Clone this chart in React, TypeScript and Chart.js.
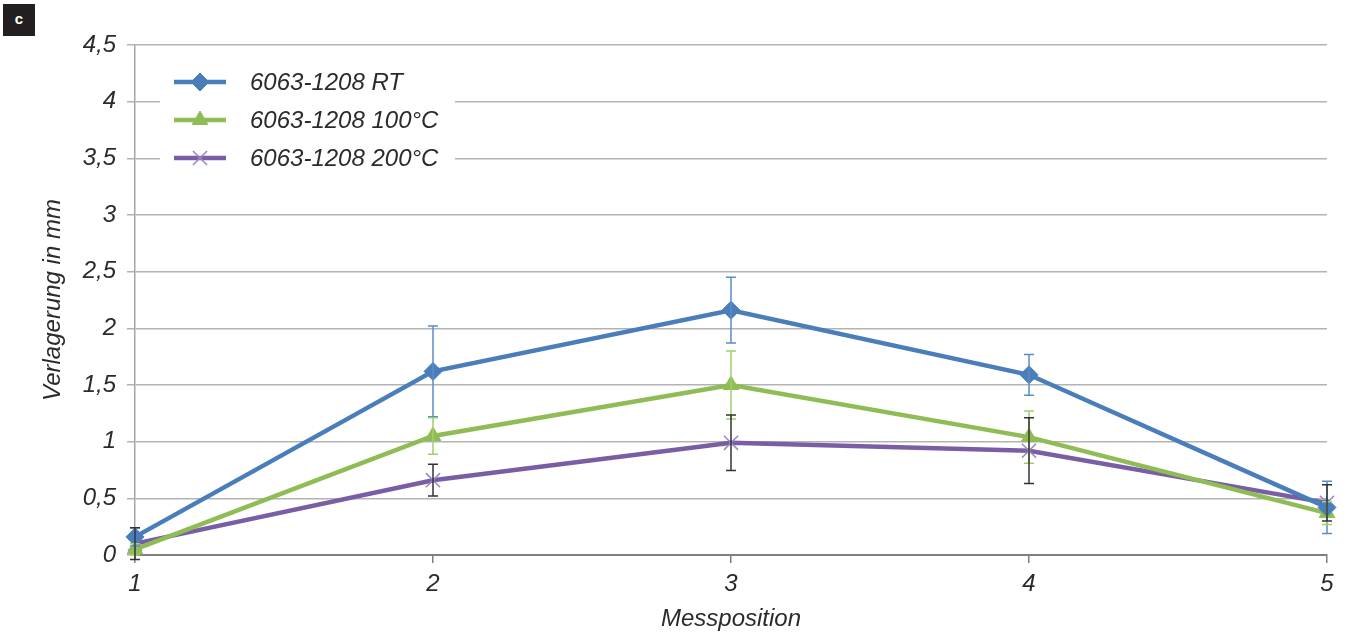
import React, { useEffect, useRef } from "react";
import { Chart, registerables } from "chart.js";
import { drawPoint } from "chart.js/helpers";

Chart.register(...registerables);

const categories = ["1", "2", "3", "4", "5"];
const seriesLabels = ["6063-1208 RT", "6063-1208 100°C", "6063-1208 200°C"];
const rtValues = [0.16, 1.62, 2.16, 1.59, 0.42];
const rtErrors = [0.08, 0.4, 0.29, 0.18, 0.23];
const c100Values = [0.05, 1.05, 1.5, 1.04, 0.37];
const c100Errors = [0.05, 0.16, 0.3, 0.23, 0.1];
const c200Values = [0.1, 0.66, 0.99, 0.92, 0.46];
const c200Errors = [0.14, 0.14, 0.245, 0.29, 0.16];
const yTicks = [0, 0.5, 1, 1.5, 2, 2.5, 3, 3.5, 4, 4.5];

const BLUE = "#4a7ebb";
const GREEN = "#8fbc55";
const PURPLE = "#7a5ea5";
const FONT = "'Liberation Sans', Arial, sans-serif";
const TEXT = "#2b2b2b";

const errorSets = [
  { values: rtValues, errors: rtErrors, color: "#5b8ccc" },
  { values: c100Values, errors: c100Errors, color: "#9fcf6a" },
  { values: c200Values, errors: c200Errors, color: "#333333" },
];

const errorBarPlugin = {
  id: "errorBars",
  afterDatasetsDraw(chart: any) {
    const { ctx, scales } = chart;
    const xs = scales.x;
    const ys = scales.y;
    ctx.save();
    errorSets.forEach((s) => {
      ctx.strokeStyle = s.color;
      ctx.lineWidth = 1.5;
      s.values.forEach((v, i) => {
        const x = xs.getPixelForValue(i);
        const yTop = ys.getPixelForValue(v + s.errors[i]);
        const yBot = ys.getPixelForValue(v - s.errors[i]);
        ctx.beginPath();
        ctx.moveTo(x, yTop);
        ctx.lineTo(x, yBot);
        ctx.moveTo(x - 5, yTop);
        ctx.lineTo(x + 5, yTop);
        ctx.moveTo(x - 5, yBot);
        ctx.lineTo(x + 5, yBot);
        ctx.stroke();
      });
    });
    ctx.restore();
  },
};

const legendPlugin = {
  id: "customLegend",
  beforeDatasetsDraw(chart: any) {
    const { ctx } = chart;
    ctx.save();
    ctx.fillStyle = "#ffffff";
    ctx.fillRect(160, 62, 295, 116);
    const rows = [82, 120, 158];
    chart.data.datasets.forEach((ds: any, i: number) => {
      const y = rows[i];
      ctx.strokeStyle = ds.borderColor;
      ctx.lineWidth = 4.5;
      ctx.beginPath();
      ctx.moveTo(174, y);
      ctx.lineTo(226, y);
      ctx.stroke();
      ctx.fillStyle = ds.pointBackgroundColor;
      ctx.strokeStyle = ds.pointBorderColor;
      ctx.lineWidth = ds.pointBorderWidth;
      drawPoint(ctx, { pointStyle: ds.pointStyle, radius: ds.pointRadius, borderWidth: ds.pointBorderWidth, rotation: 0 } as any, 200, y);
      ctx.fillStyle = TEXT;
      ctx.font = `italic 24px ${FONT}`;
      ctx.textBaseline = "middle";
      ctx.textAlign = "left";
      ctx.fillText(ds.label, 250, y + 1);
    });
    ctx.restore();
  },
};

export default function App() {
  const ref = useRef<HTMLCanvasElement>(null);
  useEffect(() => {
    document.body.style.margin = "0";
    const chart = new Chart(ref.current as HTMLCanvasElement, {
      type: "line",
      data: {
        labels: categories,
        datasets: [
          {
            label: seriesLabels[0],
            data: rtValues,
            borderColor: BLUE,
            backgroundColor: BLUE,
            borderWidth: 4.5,
            pointStyle: "rectRot",
            pointRadius: 9,
            pointBorderWidth: 1,
            pointBackgroundColor: BLUE,
            pointBorderColor: BLUE,
          },
          {
            label: seriesLabels[1],
            data: c100Values,
            borderColor: GREEN,
            backgroundColor: GREEN,
            borderWidth: 4.5,
            pointStyle: "triangle",
            pointRadius: 9,
            pointBorderWidth: 1,
            pointBackgroundColor: GREEN,
            pointBorderColor: GREEN,
          },
          {
            label: seriesLabels[2],
            data: c200Values,
            borderColor: PURPLE,
            backgroundColor: PURPLE,
            borderWidth: 4.5,
            pointStyle: "crossRot",
            pointRadius: 10,
            pointBorderWidth: 1.5,
            pointBackgroundColor: "#9b86c2",
            pointBorderColor: "#9b86c2",
          },
        ],
      },
      options: {
        animation: false,
        responsive: false,
        maintainAspectRatio: false,
        layout: { padding: { left: 0, right: 22, top: 45, bottom: 0 } },
        plugins: { legend: { display: false }, tooltip: { enabled: false } },
        scales: {
          x: {
            type: "category",
            offset: false,
            afterFit(scale: any) {
              scale.height = 79;
            },
            grid: {
              display: true,
              drawOnChartArea: false,
              drawTicks: true,
              tickLength: 8,
              color: "#7f7f7f",
              lineWidth: 1.5,
            },
            border: { color: "#7f7f7f", width: 2 },
            ticks: {
              color: TEXT,
              font: { family: FONT, size: 24, style: "italic" },
              padding: 7,
              maxRotation: 0,
            },
            title: {
              display: true,
              text: "Messposition",
              color: TEXT,
              font: { family: FONT, size: 24, style: "italic" },
              padding: { top: 0, bottom: 0 },
            },
          },
          y: {
            min: 0,
            max: 4.5,
            afterFit(scale: any) {
              scale.width = 135;
            },
            afterBuildTicks(scale: any) {
              scale.ticks = yTicks.map((v) => ({ value: v }));
            },
            grid: {
              color: "#b3b3b3",
              lineWidth: 1.5,
              drawTicks: true,
              tickLength: 8,
            },
            border: { color: "#a6a6a6", width: 1.5 },
            ticks: {
              color: TEXT,
              font: { family: FONT, size: 24, style: "italic" },
              padding: 11,
              callback: (v: any) => String(v).replace(".", ","),
            },
            title: {
              display: true,
              text: "Verlagerung in mm",
              color: TEXT,
              font: { family: FONT, size: 24, style: "italic" },
              padding: { top: 39, bottom: 0 },
            },
          },
        },
      },
      plugins: [legendPlugin, errorBarPlugin],
    } as any);
    return () => chart.destroy();
  }, []);
  return (
    <div style={{ position: "absolute", left: 0, top: 0, width: 1349, height: 634, background: "#fff" }}>
      <canvas ref={ref} width={1349} height={634} style={{ display: "block" }} />
      <div
        style={{
          position: "absolute",
          left: 3,
          top: 4,
          width: 32,
          height: 32,
          background: "#231f20",
          color: "#fff",
          fontFamily: FONT,
          fontWeight: "bold",
          fontSize: 15,
          lineHeight: "30px",
          textAlign: "center",
        }}
      >
        c
      </div>
    </div>
  );
}
